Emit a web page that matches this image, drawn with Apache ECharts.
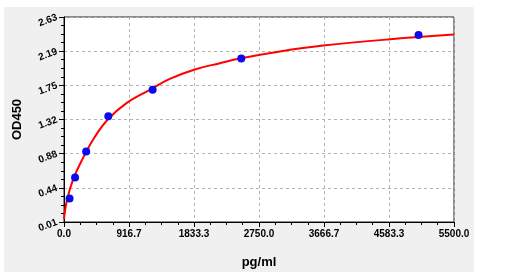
<!DOCTYPE html>
<html><head><meta charset="utf-8">
<script src="https://cdn.jsdelivr.net/npm/echarts@6/dist/echarts.min.js"></script>
<style>html,body{margin:0;padding:0;background:#fff}#c{width:510px;height:278px}</style>
</head><body><div id="c"></div>
<script>
// Standards (pg/ml) and measured OD450
var stdX = [78.125, 156.25, 312.5, 625, 1250, 2500, 5000];
var stdY = [0.31, 0.58, 0.91, 1.36, 1.70, 2.10, 2.40];
// Fitted curve
var curveX = [0, 42, 123, 264, 429, 617, 881, 1209, 1492, 1845, 2198, 2480, 3044, 3655, 4597, 5500];
var curveY = [0.05, 0.29, 0.54, 0.82, 1.09, 1.32, 1.53, 1.70, 1.84, 1.96, 2.04, 2.10, 2.19, 2.265, 2.345, 2.405];
var yTickLabels = ['0.01', '0.44', '0.88', '1.32', '1.75', '2.19', '2.63'];
var xMin = 0, xMax = 5500, yMin = 0.01, yMax = 2.63;

var chart = echarts.init(document.getElementById('c'), null, {renderer: 'canvas'});
var lblFont = {fontFamily: 'Liberation Sans, Arial, sans-serif', fontWeight: 'bold', fontSize: 10, color: '#000'};
chart.setOption({
  animation: false,
  graphic: [{type: 'rect', z: -10, shape: {x: 4, y: 7, width: 470, height: 265}, style: {fill: '#f0f0f0'}}],
  grid: {left: 64, right: 56, top: 17, bottom: 56, show: true, backgroundColor: '#fff', borderColor: '#222', borderWidth: 1},
  xAxis: {
    type: 'value', min: xMin, max: xMax, interval: (xMax - xMin) / 6,
    axisLine: {lineStyle: {color: '#000', width: 1}},
    axisTick: {length: 5, lineStyle: {color: '#000'}},
    minorTick: {show: true, splitNumber: 4, length: 3, lineStyle: {color: '#000'}},
    splitLine: {show: true, lineStyle: {color: '#b4b4b4', type: [3, 3]}},
    axisLabel: Object.assign({margin: 7, formatter: function (v) { return v.toFixed(1); }}, lblFont),
    name: 'pg/ml', nameLocation: 'middle', nameGap: 34,
    nameTextStyle: {fontFamily: 'Liberation Sans, Arial, sans-serif', fontWeight: 'bold', fontSize: 13, color: '#000', verticalAlign: 'top'}
  },
  yAxis: [{
    type: 'value', min: yMin, max: yMax, show: false
  }, {
    type: 'value', min: 0, max: yTickLabels.length - 1, interval: 1, position: 'left',
    axisLine: {show: true, lineStyle: {color: '#000', width: 1}},
    axisTick: {show: true, length: 5, lineStyle: {color: '#000'}},
    minorTick: {show: true, splitNumber: 4, length: 3, lineStyle: {color: '#000'}},
    splitLine: {show: true, lineStyle: {color: '#b4b4b4', type: [3, 3]}},
    axisLabel: Object.assign({margin: 7, rotate: 20, formatter: function (v) { return yTickLabels[Math.round(v)]; }}, lblFont),
    name: 'OD450', nameLocation: 'middle', nameGap: 40, nameRotate: 90,
    nameTextStyle: {fontFamily: 'Liberation Sans, Arial, sans-serif', fontWeight: 'bold', fontSize: 13, color: '#000'}
  }],
  series: [{
    type: 'line', yAxisIndex: 0, data: curveX.map(function (x, i) { return [x, curveY[i]]; }),
    smooth: 0.4, showSymbol: false, lineStyle: {color: '#ff0000', width: 2}, z: 2
  }, {
    type: 'scatter', yAxisIndex: 0, data: stdX.map(function (x, i) { return [x, stdY[i]]; }),
    symbol: 'circle', symbolSize: 8, itemStyle: {color: '#0a0aee', opacity: 1}, z: 3
  }]
});
</script></body></html>
